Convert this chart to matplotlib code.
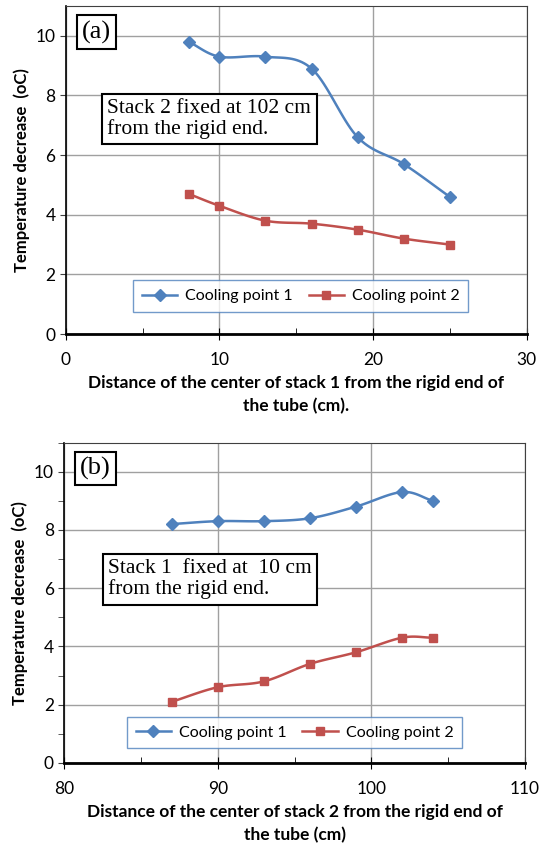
import numpy as np
import matplotlib.pyplot as plt
from matplotlib.ticker import MultipleLocator

# panel (a): stack 1 moved, stack 2 fixed at 102 cm
xa = [8, 10, 13, 16, 19, 22, 25]
a_cp1 = [9.8, 9.3, 9.3, 8.9, 6.6, 5.7, 4.6]
a_cp2 = [4.7, 4.3, 3.8, 3.7, 3.5, 3.2, 3.0]

# panel (b): stack 2 moved, stack 1 fixed at 10 cm
xb = [87, 90, 93, 96, 99, 102, 104]
b_cp1 = [8.2, 8.3, 8.3, 8.4, 8.8, 9.3, 9.0]
b_cp2 = [2.1, 2.6, 2.8, 3.4, 3.8, 4.3, 4.3]

blue = '#4F81BD'
red = '#C0504D'
sans = 'Lato'
serif = 'Liberation Serif'


def smooth(x, y, n=20):
    # catmull-rom curve through the points, like excel's smoothed line
    x = np.asarray(x, float)
    y = np.asarray(y, float)
    px = np.concatenate([[2 * x[0] - x[1]], x, [2 * x[-1] - x[-2]]])
    py = np.concatenate([[2 * y[0] - y[1]], y, [2 * y[-1] - y[-2]]])
    ox, oy = [], []
    t = np.linspace(0, 1, n)
    for i in range(1, len(px) - 2):
        for p, o in ((px, ox), (py, oy)):
            p0, p1, p2, p3 = p[i - 1], p[i], p[i + 1], p[i + 2]
            o.extend(0.5 * ((2 * p1) + (-p0 + p2) * t
                            + (2 * p0 - 5 * p1 + 4 * p2 - p3) * t ** 2
                            + (-p0 + 3 * p1 - 3 * p2 + p3) * t ** 3))
    return ox, oy


def panel(ax, x, y1, y2, xlim, xlabel, tag, note, note_xy, leg_anchor, y_minor):
    ax.plot(*smooth(x, y1), color=blue, lw=1.8, zorder=3)
    ax.plot(*smooth(x, y2), color=red, lw=1.8, zorder=3)
    ax.plot(x, y1, 'D', color=blue, ms=6, zorder=4)
    ax.plot(x, y2, 's', color=red, ms=6, zorder=4)
    # legend proxies
    h1, = ax.plot([], [], color=blue, marker='D', ms=6, lw=1.8, label='Cooling point 1')
    h2, = ax.plot([], [], color=red, marker='s', ms=6, lw=1.8, label='Cooling point 2')

    ax.set_xlim(*xlim)
    ax.set_ylim(0, 11)
    ax.xaxis.set_major_locator(MultipleLocator(10))
    ax.xaxis.set_minor_locator(MultipleLocator(5))
    ax.yaxis.set_major_locator(MultipleLocator(2))
    if y_minor:
        ax.yaxis.set_minor_locator(MultipleLocator(1))
        ax.tick_params(axis='y', which='minor', direction='out', length=4, color='#404040')
    ax.tick_params(axis='x', which='major', direction='inout', length=8, color='black', pad=9)
    ax.tick_params(axis='x', which='minor', direction='in', length=4, color='black')
    ax.tick_params(axis='y', which='major', direction='out', length=4, color='#404040')
    ax.tick_params(labelsize=12.5)
    for lab in ax.get_xticklabels() + ax.get_yticklabels():
        lab.set_fontfamily(sans)
    ax.grid(True, which='major', color='#A0A0A0', lw=1.0)
    ax.set_axisbelow(True)
    ax.spines['bottom'].set_linewidth(2)
    ax.spines['left'].set_linewidth(1.2)
    ax.spines['top'].set_color('#404040')
    ax.spines['right'].set_color('#404040')

    ax.set_xlabel(xlabel, fontsize=12.5, fontweight='bold', family=sans, labelpad=5,
                  linespacing=1.55)
    ax.set_ylabel('Temperature decrease  (oC)', fontsize=12, fontweight='bold',
                  family=sans, labelpad=4)

    ax.text(0.035, 0.955, tag, transform=ax.transAxes, fontsize=19, family=serif,
            va='top', ha='left',
            bbox=dict(boxstyle='square,pad=0.2', fc='white', ec='black', lw=1.5), zorder=5)
    ax.text(note_xy[0], note_xy[1], note, transform=ax.transAxes, fontsize=15.5, family=serif,
            va='top', ha='left', linespacing=1.05,
            bbox=dict(boxstyle='square,pad=0.25', fc='white', ec='black', lw=1.5), zorder=5)

    leg = ax.legend(handles=[h1, h2], loc='center', bbox_to_anchor=leg_anchor, ncol=2,
                    frameon=True, fancybox=False, prop={'family': sans, 'size': 11.5},
                    handlelength=2.2, columnspacing=1.0, handletextpad=0.5, borderpad=0.55)
    leg.get_frame().set_edgecolor(blue)
    leg.get_frame().set_linewidth(1.0)


fig = plt.figure(figsize=(5.44, 8.5), dpi=100)
ax1 = fig.add_axes([0.121, 0.607, 0.847, 0.386])
ax2 = fig.add_axes([0.118, 0.1024, 0.847, 0.377])

panel(ax1, xa, a_cp1, a_cp2, (0, 30),
      'Distance of the center of stack 1 from the rigid end of\nthe tube (cm).',
      '(a)', 'Stack 2 fixed at 102 cm\nfrom the rigid end.', (0.09, 0.715),
      (0.51, 0.115), False)
panel(ax2, xb, b_cp1, b_cp2, (80, 110),
      'Distance of the center of stack 2 from the rigid end of\nthe tube (cm)',
      '(b)', 'Stack 1  fixed at  10 cm\nfrom the rigid end.', (0.095, 0.635),
      (0.50, 0.095), True)

fig.savefig('out.png', dpi=100)
